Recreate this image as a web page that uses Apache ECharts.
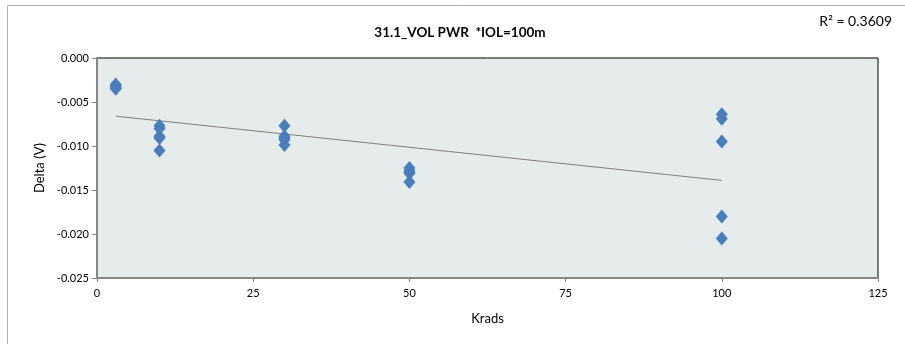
<!DOCTYPE html>
<html>
<head>
<meta charset="utf-8">
<script src="https://cdn.jsdelivr.net/npm/echarts@6/dist/echarts.min.js"></script>
<style>
html,body{margin:0;padding:0;background:#fff;}
#c{width:905px;height:344px;}
</style>
</head>
<body>
<div id="c"></div>
<script>
const titleText = '31.1_VOL PWR  *IOL=100m';
const r2Text = 'R\u00b2 = 0.3609';
const xName = 'Krads';
const yName = 'Delta (V)';
const xKrads = [3, 3, 3, 3, 3,
                10, 10, 10, 10, 10,
                30, 30, 30, 30, 30,
                50, 50, 50, 50, 50,
                100, 100, 100, 100, 100];
const deltaV = [-0.0030, -0.0031, -0.0033, -0.0034, -0.0035,
                -0.0077, -0.0080, -0.0089, -0.0091, -0.0105,
                -0.0077, -0.0089, -0.0091, -0.0093, -0.0099,
                -0.0125, -0.0128, -0.0130, -0.0131, -0.0141,
                -0.0064, -0.0069, -0.0095, -0.0180, -0.0205];

// linear regression trendline
const n = xKrads.length;
const mx = xKrads.reduce((a,b)=>a+b,0)/n;
const my = deltaV.reduce((a,b)=>a+b,0)/n;
let sxy = 0, sxx = 0;
for (let i=0;i<n;i++){ sxy += (xKrads[i]-mx)*(deltaV[i]-my); sxx += (xKrads[i]-mx)**2; }
const slope = sxy/sxx, icpt = my - slope*mx;
const xmin = Math.min(...xKrads), xmax = Math.max(...xKrads);
const trend = [[xmin, icpt+slope*xmin],[xmax, icpt+slope*xmax]];

const font = 'Lato, "Open Sans", sans-serif';
const chart = echarts.init(document.getElementById('c'));
chart.setOption({
  animation:false,
  backgroundColor:'#fff',
  textStyle:{fontFamily:font},
  title:[
    {text:titleText, left:455, top:21, textAlign:'center',
     textStyle:{fontFamily:font, fontSize:13.5, fontWeight:'bold', color:'#000'}},
    {text:r2Text, right:8, top:9,
     textStyle:{fontFamily:font, fontSize:14, fontWeight:'normal', color:'#000'}}
  ],
  graphic:[{type:'rect', shape:{x:7.5,y:5.5,width:960,height:400}, style:{fill:'none', stroke:'#b0b0b0', lineWidth:1}, z:-1}],
  grid:{left:97, right:27, top:58, bottom:66, show:true, backgroundColor:'#e6ebeb', borderColor:'#000', borderWidth:1},
  xAxis:{type:'value', min:0, max:125, interval:25, name:xName, nameLocation:'middle', nameGap:34,
    nameTextStyle:{fontFamily:font, fontSize:13, color:'#000'},
    axisLine:{show:true, onZero:false, lineStyle:{color:'#868686', width:2}},
    axisTick:{show:true, length:4, lineStyle:{color:'#868686'}},
    axisLabel:{fontFamily:font, fontSize:11, color:'#000', margin:10},
    splitLine:{show:false}},
  yAxis:{type:'value', min:-0.025, max:0, interval:0.005, name:yName, nameLocation:'middle', nameGap:51,
    nameTextStyle:{fontFamily:font, fontSize:13, color:'#000'},
    axisLine:{show:true, onZero:false, lineStyle:{color:'#868686', width:2}},
    axisTick:{show:true, length:5, lineStyle:{color:'#868686'}},
    axisLabel:{fontFamily:font, fontSize:11, color:'#000', margin:8, formatter:v=>v.toFixed(3)},
    splitLine:{show:false}},
  series:[
    {type:'scatter', data:xKrads.map((x,i)=>[x, deltaV[i]]), symbol:'diamond', symbolSize:[12,14],
     itemStyle:{color:'#4a7ebb', opacity:1}, z:3},
    {type:'line', data:trend, symbol:'none', lineStyle:{color:'#808080', width:1}, z:2}
  ]
});
</script>
</body>
</html>
